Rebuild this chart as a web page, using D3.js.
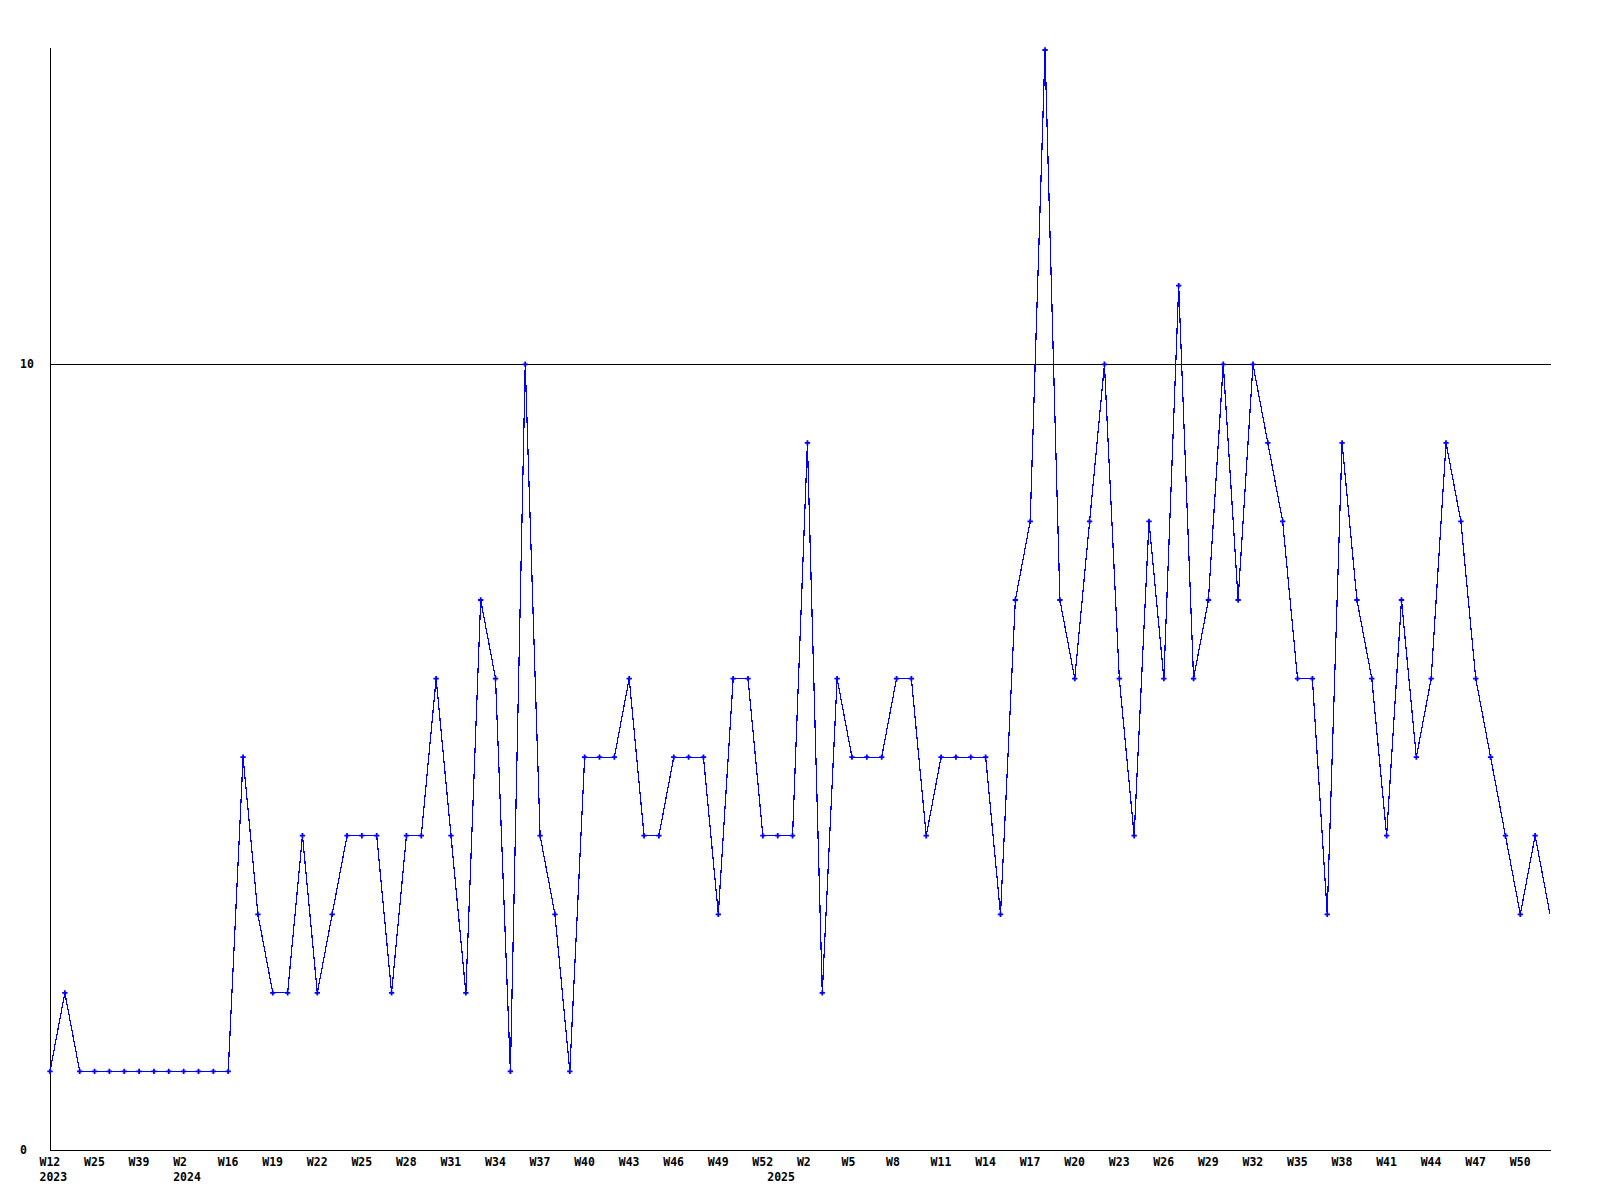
<!DOCTYPE html>
<html>
<head>
<meta charset="utf-8">
<script src="https://cdn.jsdelivr.net/npm/d3@7"></script>
<style>
  html, body { margin: 0; padding: 0; background: #ffffff; }
  svg { display: block; }
  text { font-family: "DejaVu Sans Mono", "Liberation Mono", monospace; font-weight: bold; font-size: 11.5px; fill: #000; }
</style>
</head>
<body>
<svg id="chart" width="1600" height="1200"></svg>
<script>
// ---- data ----
const years = [
  "2023","2023","2023","2023","2023","2023","2023","2023","2023",
  "2024","2024","2024","2024","2024","2024","2024","2024","2024","2024","2024","2024","2024","2024","2024","2024","2024","2024","2024","2024","2024","2024","2024","2024","2024","2024","2024","2024","2024","2024","2024","2024","2024","2024","2024","2024","2024","2024","2024","2024",
  "2025","2025","2025","2025","2025","2025","2025","2025","2025","2025","2025","2025","2025","2025","2025","2025","2025","2025","2025","2025","2025","2025","2025","2025","2025","2025","2025","2025","2025","2025","2025","2025","2025","2025","2025","2025","2025","2025","2025","2025","2025","2025","2025","2025","2025","2025","2025","2025","2025","2025","2025","2025","2025"
];
const weeks = [
  "W12","W14","W19","W25","W30","W35","W39","W44","W50",
  "W2","W6","W11","W16","W17","W18","W19","W20","W21","W22","W23","W24","W25","W26","W27","W28","W29","W30","W31","W32","W33","W34","W35","W36","W37","W38","W39","W40","W41","W42","W43","W44","W45","W46","W47","W48","W49","W50","W51","W52",
  "W0","W1","W2","W3","W4","W5","W6","W7","W8","W9","W10","W11","W12","W13","W14","W15","W16","W17","W18","W19","W20","W21","W22","W23","W24","W25","W26","W27","W28","W29","W30","W31","W32","W33","W34","W35","W36","W37","W38","W39","W40","W41","W42","W43","W44","W45","W46","W47","W48","W49","W50","W51","W52"
];
const values = [
  1,2,1,1,1,1,1,1,1,
  1,1,1,1,5,3,2,2,4,2,3,4,4,4,2,4,4,6,4,2,7,6,1,10,4,3,1,5,5,5,6,4,4,5,5,5,3,6,6,4,
  4,4,9,2,6,5,5,5,6,6,4,5,5,5,5,3,7,8,14,7,6,8,10,6,4,8,6,11,6,7,10,7,10,9,8,6,6,3,9,7,6,4,7,5,6,9,8,6,5,4,3,4,3
];
const yTicks = [0, 10];

// ---- build ----
const data = values.map((v, i) => ({ key: years[i] + "-" + weeks[i], year: years[i], week: weeks[i], value: v, i }));

const svg = d3.select("#chart");
const x = d3.scalePoint().domain(data.map(d => d.key)).range([50, 1550]);
const y = d3.scaleLinear().domain([0, 14]).range([1150, 50]);

// horizontal grid line at y ticks (non-zero)
svg.selectAll("line.grid").data(yTicks.filter(t => t > 0)).enter().append("line")
  .attr("class", "grid")
  .attr("x1", 50).attr("x2", 1551)
  .attr("y1", d => Math.round(y(d)) + 0.5).attr("y2", d => Math.round(y(d)) + 0.5)
  .attr("stroke", "#000").attr("stroke-width", 1).attr("shape-rendering", "crispEdges");

// axes lines
svg.append("line").attr("x1", 50.5).attr("x2", 50.5).attr("y1", 48).attr("y2", 1150)
  .attr("stroke", "#000").attr("shape-rendering", "crispEdges");
svg.append("line").attr("x1", 50).attr("x2", 1551).attr("y1", 1150.5).attr("y2", 1150.5)
  .attr("stroke", "#000").attr("shape-rendering", "crispEdges");

// y labels
svg.selectAll("text.ylab").data(yTicks).enter().append("text")
  .attr("class", "ylab")
  .attr("x", 20).attr("y", d => y(d) + 4)
  .text(d => d);

// x labels every 3rd point
const labelled = data.filter(d => d.i % 3 === 0);
svg.selectAll("text.xlab").data(labelled).enter().append("text")
  .attr("class", "xlab")
  .attr("x", d => x(d.key) - 10.5).attr("y", 1166)
  .text(d => d.week);

// year labels at first point of each year
const firstOfYear = data.filter((d, i) => i === 0 || data[i - 1].year !== d.year);
svg.selectAll("text.yearlab").data(firstOfYear).enter().append("text")
  .attr("class", "yearlab")
  .attr("x", d => x(d.key) - 10.5).attr("y", 1181)
  .text(d => d.year);

// line
const line = d3.line().x(d => x(d.key)).y(d => y(d.value));
svg.append("path").datum(data)
  .attr("d", line)
  .attr("fill", "none")
  .attr("stroke", "#0000ff")
  .attr("stroke-width", 1.2)
  .attr("shape-rendering", "crispEdges");

// markers
svg.selectAll("path.mk").data(data.filter((d, i) => i < data.length - 1)).enter().append("path")
  .attr("class", "mk")
  .attr("d", d3.symbol(d3.symbolCross).size(16))
  .attr("transform", d => `translate(${x(d.key)},${y(d.value)})`)
  .attr("fill", "#0000ff");
</script>
</body>
</html>
